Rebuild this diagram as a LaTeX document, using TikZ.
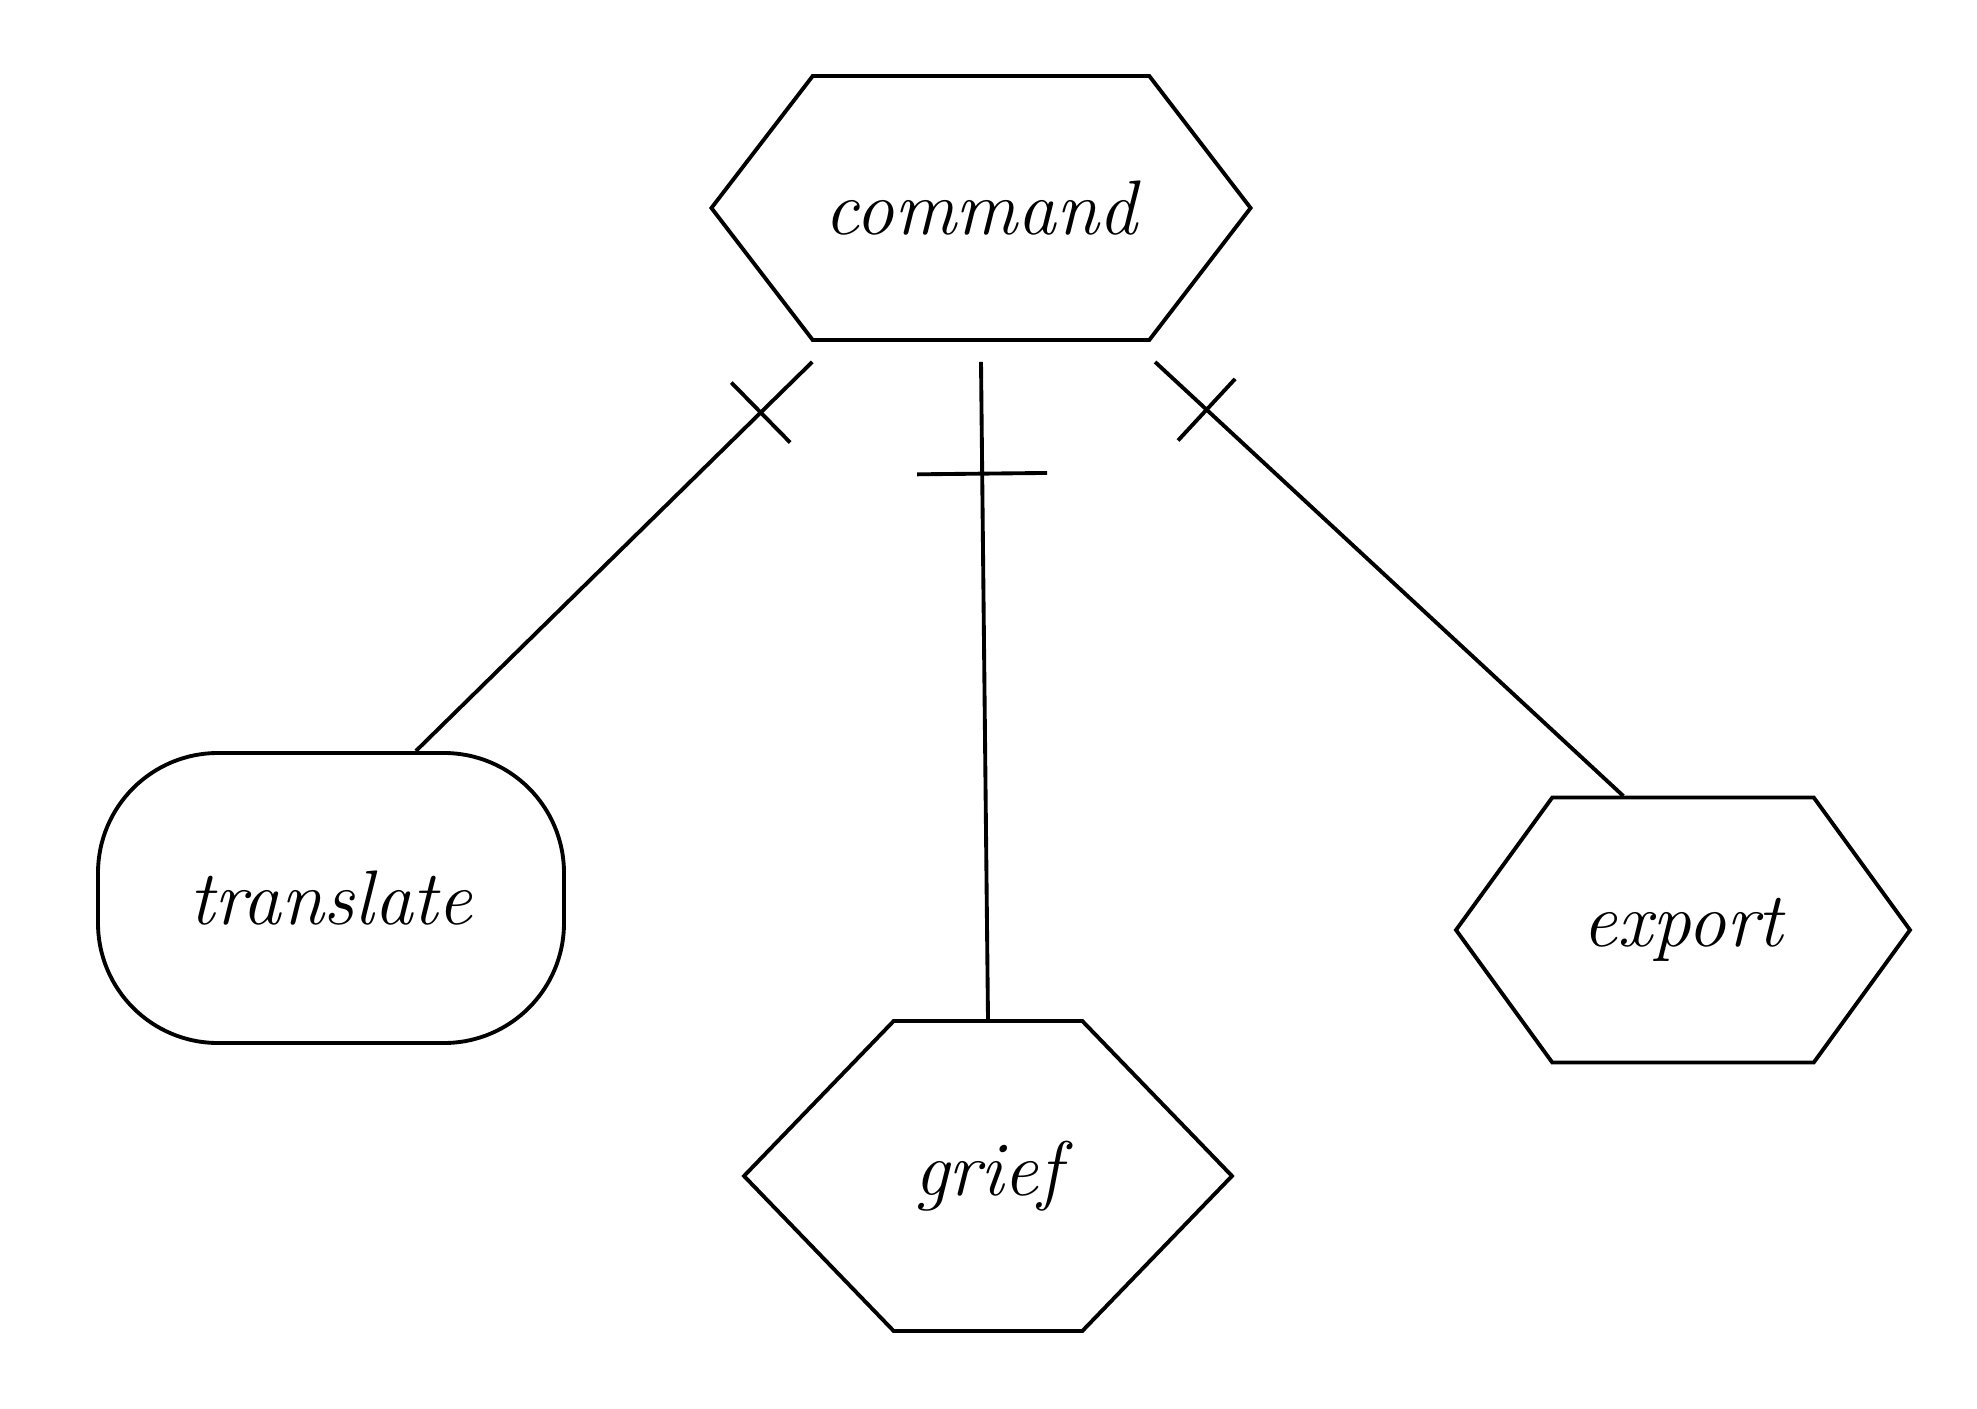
\documentclass[tikz,border=0pt]{standalone}
\usepackage{tikz}
\usetikzlibrary{shapes,arrows,positioning,decorations.markings}

\begin{document}
\begin{tikzpicture}[
	hexnode/.style={signal, signal to=west and east, draw, line width=1.1pt, align=center, font=\fontsize{22}{26}\selectfont\itshape},
	roundnode/.style={rectangle, draw, rounded corners=1.2cm, line width=1.1pt, align=center, minimum width=4.66cm, minimum height=2.9cm, font=\fontsize{22}{26}\selectfont\itshape},
	link/.style={line width=1.1pt},
	onebar/.style 2 args={postaction={decorate, decoration={markings, mark=at position #1 with {\draw[line width=1.1pt] (0,-#2) -- (0,#2);}}}}
	]
	
	\useasboundingbox (0,0) rectangle (19.77,-14.09);
	
	% Parent
	\node[hexnode, minimum width=5.2cm, minimum height=2.64cm, signal pointer angle=105] (command) at (9.81,-2.08) {command};
	
	% Children
	\node[roundnode] (translate) at (3.31,-8.98) {translate};
	\node[hexnode, minimum width=4.88cm, minimum height=3.1cm, signal pointer angle=92] (grief) at (9.88,-11.76) {grief};
	\node[hexnode, minimum width=4.54cm, minimum height=2.65cm, signal pointer angle=108] (export) at (16.83,-9.30) {export};
	
	% Connections (one-to-one bars near the parent)
	\draw[link, onebar={0.13}{0.42cm}] ([shift={(-0.2,-0.2)}]command.222) -- (translate.60);
	\draw[link, onebar={0.17}{0.65cm}] ([yshift=-0.2cm]command.south) -- (grief.north);
	\draw[link, onebar={0.11}{0.42cm}] ([shift={(0.2,-0.2)}]command.319) -- (export.114);
	
\end{tikzpicture}
\end{document}
